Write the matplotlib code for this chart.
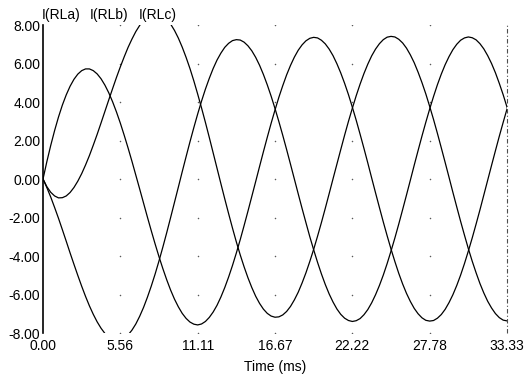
import numpy as np
import matplotlib
matplotlib.use("Agg")
import matplotlib.pyplot as plt

plt.rcParams['font.family'] = ['Liberation Sans', 'DejaVu Sans']

# sample times: 121 points over two 60 Hz cycles (0 .. 33.33 ms)
time_ms = np.linspace(0, 33.3333, 121)

# load currents, in hundredths of an amp
i_rla = [0, 91, 175, 252, 322, 384, 437, 482, 518, 545, 563, 572, 572, 563, 546, 521, 488, 448, 401, 348,
         290, 227, 161, 92, 20, -52, -125, -198, -269, -338, -404, -466, -524, -577, -624, -664, -698, -724, -743, -754,
         -758, -753, -740, -719, -691, -656, -613, -564, -509, -449, -384, -315, -242, -167, -90, -13, 65, 142, 217, 290,
         359, 425, 485, 541, 590, 633, 669, 697, 718, 731, 736, 733, 721, 702, 675, 641, 599, 551, 497, 438,
         373, 305, 233, 159, 83, 5, -72, -148, -223, -295, -364, -429, -490, -545, -594, -636, -672, -700, -721, -734,
         -738, -735, -723, -704, -677, -642, -601, -553, -499, -439, -374, -306, -234, -160, -83, -6, 71, 147, 222, 294,
         364]
i_rlb = [0, -40, -69, -88, -98, -97, -88, -70, -44, -11, 28, 73, 122, 176, 232, 291, 351, 411, 470, 528,
         583, 635, 684, 727, 766, 798, 825, 844, 856, 861, 859, 848, 830, 805, 772, 732, 685, 632, 574, 510,
         441, 369, 294, 216, 136, 56, -24, -103, -180, -255, -327, -394, -456, -513, -564, -609, -646, -676, -698, -712,
         -718, -716, -706, -688, -662, -628, -588, -540, -487, -428, -365, -297, -226, -152, -76, 1, 77, 153, 228, 300,
         368, 433, 493, 548, 597, 640, 675, 703, 724, 737, 741, 738, 726, 707, 680, 645, 604, 555, 501, 442,
         377, 309, 237, 162, 86, 9, -69, -145, -220, -292, -362, -427, -487, -543, -592, -635, -670, -699, -720, -733,
         -737]
i_rlc = [0, -45, -94, -148, -204, -263, -323, -384, -443, -501, -557, -610, -659, -703, -742, -775, -802, -822, -834, -840,
         -837, -828, -810, -785, -753, -713, -667, -614, -556, -493, -425, -353, -278, -200, -121, -42, 38, 116, 193, 267,
         338, 405, 467, 523, 574, 618, 654, 684, 705, 719, 724, 722, 711, 692, 666, 632, 591, 543, 489, 430,
         366, 298, 227, 153, 77, 0, -77, -153, -227, -300, -368, -433, -493, -548, -597, -639, -675, -703, -723, -735,
         -740, -736, -725, -705, -678, -643, -601, -553, -499, -439, -374, -306, -234, -159, -83, -6, 72, 148, 223, 295,
         364, 429, 490, 545, 594, 636, 672, 700, 721, 733, 738, 734, 723, 703, 676, 641, 600, 552, 497, 438,
         373]

x_ticks = [0, 5.5556, 11.1111, 16.6667, 22.2222, 27.7778, 33.3333]
x_labels = ["0.00", "5.56", "11.11", "16.67", "22.22", "27.78", "33.33"]
y_ticks = [-8, -6, -4, -2, 0, 2, 4, 6, 8]
names = ["I(RLa)", "I(RLb)", "I(RLc)"]

fig = plt.figure(figsize=(5.24, 3.78), dpi=100)
ax = fig.add_axes([0.0821, 0.119, 0.8855, 0.8148])
for y in [i_rla, i_rlb, i_rlc]:
    ax.plot(time_ms, np.array(y) / 100, color="black", lw=0.9)

# dotted grid: a dot at each tick crossing
gx, gy = np.meshgrid(x_ticks[1:-1], y_ticks)
ax.scatter(gx.ravel(), gy.ravel(), s=1.2, color="0.35", lw=0, zorder=1)
ax.axvline(x_ticks[-1], color="0.3", lw=0.8, ls=(0, (4, 2, 1, 2)), clip_on=False)

ax.set_xlim(0, x_ticks[-1])
ax.set_ylim(-8, 8)
ax.set_xticks(x_ticks, x_labels)
ax.set_yticks(y_ticks, [f"{v:.2f}" for v in y_ticks])
ax.tick_params(length=0, labelsize=10)
ax.tick_params(axis="x", pad=4)
ax.tick_params(axis="y", pad=2)
for s in ["top", "right", "bottom"]:
    ax.spines[s].set_visible(False)
ax.spines["left"].set_linewidth(1.2)
ax.set_xlabel("Time (ms)", fontsize=10, labelpad=5)

for x0, name in zip([42, 90, 139], names):
    fig.text(x0 / 524, 1 - 15 / 378, name, fontsize=10, va="center", ha="left")

fig.savefig("out.png")
